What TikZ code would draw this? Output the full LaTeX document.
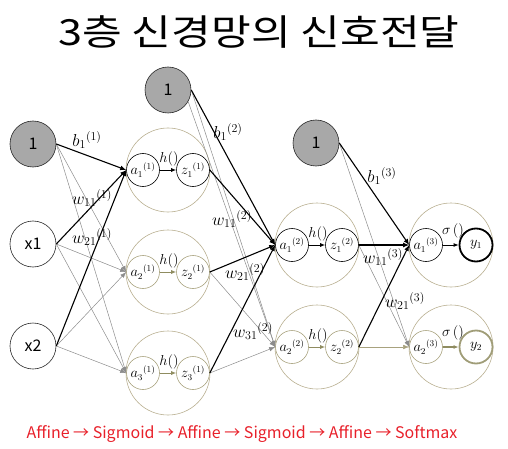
\documentclass[tikz,border=0pt]{standalone}
\usepackage{fontspec}
\newfontfamily\kr{Noto Sans CJK KR}
\usetikzlibrary{arrows.meta}
\definecolor{biasgray}{HTML}{A8A8A8}
\definecolor{olv}{HTML}{B8AF90}
\definecolor{olvs}{HTML}{A8A27E}
\definecolor{olva}{HTML}{8F8C60}
\definecolor{gline}{HTML}{8C8C8C}
\definecolor{capred}{HTML}{E8202A}
\tikzset{
  neuron/.style={circle, draw=olv, line width=0.6pt, minimum size=84pt, inner sep=0pt},
  sm/.style={circle, draw=black, line width=0.6pt, minimum size=33pt, inner sep=0pt, font=\fontsize{13.5}{15}\selectfont},
  smo/.style={sm, draw=olvs},
  inp/.style={circle, draw=black!85, line width=0.6pt, minimum size=46pt, inner sep=0pt, font=\kr\fontsize{16}{18}\selectfont},
  bias/.style={inp, fill=biasgray},
  wt/.style={draw=black, line width=1.1pt, -{Latex[length=6pt,width=5pt]}},
  gw/.style={draw=gline, line width=0.5pt, -{Latex[length=6pt,width=4.5pt]}},
  inb/.style={draw=black, line width=0.9pt, -{Latex[length=5pt,width=4pt]}},
  ino/.style={draw=olva, line width=0.9pt, -{Latex[length=5pt,width=4pt]}},
  lab/.style={font=\fontsize{17}{19}\selectfont, inner sep=0pt},
  fl/.style={font=\fontsize{14}{15}\selectfont, inner sep=0pt}
}
\begin{document}
\begin{tikzpicture}[x=1pt,y=-1pt]
\useasboundingbox (0,0) rectangle (508,449);
\node[font=\kr\fontsize{36}{40}\selectfont, inner sep=0pt] (title) at (259,32) {\scalebox{1.2}[1]{3층 신경망의 신호전달}};
% inputs
\node[bias] (b1) at (33,144) {1};
\node[inp] (x1) at (33,244) {x1};
\node[inp] (x2) at (33,346) {x2};
\node[bias] (b2) at (168,90) {1};
\node[bias] (b3) at (316,143) {1};
% layer 1
\node[neuron] (n11) at (168,170) {};
\node[neuron] (n12) at (168,272) {};
\node[neuron] (n13) at (168,373) {};
\node[sm] (a11) at (143,170) {$a_1{}^{(1)}$};
\node[sm] (z11) at (193,170) {$z_1{}^{(1)}$};
\node[smo] (a12) at (143,272) {$a_2{}^{(1)}$};
\node[smo] (z12) at (193,272) {$z_2{}^{(1)}$};
\node[smo] (a13) at (143,373) {$a_3{}^{(1)}$};
\node[smo] (z13) at (193,373) {$z_3{}^{(1)}$};
% layer 2
\node[neuron] (n21) at (317,245) {};
\node[neuron] (n22) at (317,347) {};
\node[sm] (a21) at (292,245) {$a_1{}^{(2)}$};
\node[sm] (z21) at (342,245) {$z_1{}^{(2)}$};
\node[smo] (a22) at (292,347) {$a_2{}^{(2)}$};
\node[smo] (z22) at (342,347) {$z_2{}^{(2)}$};
% layer 3
\node[neuron] (n31) at (451,245) {};
\node[neuron] (n32) at (451,347) {};
\node[sm] (a31) at (426,245) {$a_1{}^{(3)}$};
\node[sm, line width=1.8pt] (y1) at (476,245) {$y_1$};
\node[smo] (a32) at (426,347) {$a_2{}^{(3)}$};
\node[smo, line width=1.8pt, draw=olva!85] (y2) at (476,347) {$y_2$};
% inner arrows
\draw[inb] (a11) -- (z11);
\draw[ino] (a12) -- (z12);
\draw[ino] (a13) -- (z13);
\draw[inb] (a21) -- (z21);
\draw[ino] (a22) -- (z22);
\draw[inb] (a31) -- (y1);
\draw[ino, line width=1.4pt] (a32) -- (y2);
\node[fl] (h11) at (169,159) {$h()$};
\node[fl] (h12) at (169,261) {$h()$};
\node[fl] (h13) at (169,362) {$h()$};
\node[fl] (h21) at (318,234) {$h()$};
\node[fl] (h22) at (318,336) {$h()$};
\node[fl] (s31) at (453,231) {$\sigma\,()$};
\node[fl] (s32) at (453,333) {$\sigma\,()$};
% layer 0 -> 1
\draw[gw] (b1.east) -- (a12.west);
\draw[gw] (b1.east) -- (a13.west);
\draw[gw] (x1.east) -- (a12.west);
\draw[gw] (x1.east) -- (a13.west);
\draw[gw] (x2.east) -- (a12.west);
\draw[gw] (x2.east) -- (a13.west);
\draw[wt] (b1.east) -- (a11.west);
\draw[wt] (x1.east) -- (a11.west);
\draw[wt] (x2.east) -- (a11.west);
% layer 1 -> 2
\draw[gw] (b2.east) -- (a22.west);
\draw[gw] (b2.-30) -- (a22.west);
\draw[gw] (z12.east) -- (a22.west);
\draw[gw] (z13.east) -- (a22.west);
\draw[wt] (b2.east) -- (a21.west);
\draw[wt] (z11.east) -- (a21.west);
\draw[wt] (z12.east) -- (a21.west);
\draw[wt] (z13.east) -- (a21.west);
% layer 2 -> 3
\draw[gw] (b3.east) -- (a32.west);
\draw[gw] (z21.east) -- (a32.west);
\draw[gw, draw=olvs] (z22.east) -- (a32.west);
\draw[wt] (b3.east) -- (a31.west);
\draw[wt] (z21.east) -- (a31.west);
\draw[wt] (z22.east) -- (a31.west);
% weight labels
\node[lab] (lb1) at (87,140) {$b_1{}^{(1)}$};
\node[lab] (lw11) at (92,198) {$w_{11}{}^{(1)}$};
\node[lab] (lw21) at (92,237) {$w_{21}{}^{(1)}$};
\node[lab] (lb2) at (228,132) {$b_1{}^{(2)}$};
\node[lab] (lw112) at (232,219) {$w_{11}{}^{(2)}$};
\node[lab] (lw212) at (245,272) {$w_{21}{}^{(2)}$};
\node[lab] (lw312) at (253,331) {$w_{31}{}^{(2)}$};
\node[lab] (lb3) at (382,176) {$b_1{}^{(3)}$};
\node[lab] (lw113) at (383,257) {$w_{11}{}^{(3)}$};
\node[lab] (lw213) at (405,301) {$w_{21}{}^{(3)}$};
% caption
\node[font=\kr\fontsize{16}{18}\selectfont, text=capred] (cap) at (242,434) {Affine → Sigmoid → Affine → Sigmoid → Affine → Softmax};
\end{tikzpicture}
\end{document}
